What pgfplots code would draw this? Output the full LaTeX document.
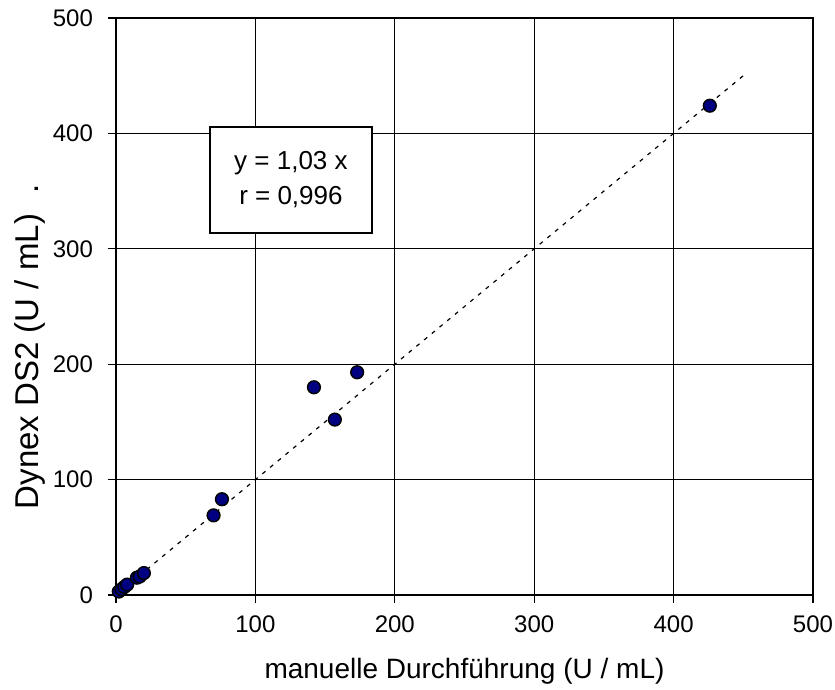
\documentclass[border=0pt]{standalone}
\usepackage{pgfplots}
\pgfplotsset{compat=1.18}
\usepackage{fontspec}
\setmainfont{Liberation Sans}
\definecolor{dots}{RGB}{0,0,128}

\begin{document}
\begin{tikzpicture}
\begin{axis}[
  scale only axis,
  width=348.5pt, height=288.5pt,
  xmin=0, xmax=500, ymin=0, ymax=500,
  xtick={0,100,...,500}, ytick={0,100,...,500},
  tick align=outside, major tick length=4pt,
  tick style={black, line width=0.6pt},
  xtick pos=bottom, ytick pos=left,
  grid=major,
  grid style={black, line width=0.5pt},
  axis line style={black, line width=1pt},
  /pgf/number format/assume math mode=true,
  ticklabel style={font=\fontsize{12}{14}\selectfont},
  xticklabel style={yshift=-3pt},
  yticklabel style={xshift=-4pt},
  xlabel={manuelle Durchführung (U / mL)},
  ylabel={Dynex DS2 (U / mL)\hspace{10pt}.},
  xlabel style={font=\fontsize{14}{16}\selectfont,
    at={(axis description cs:0.5,-0.133)}, anchor=center},
  ylabel style={font=\fontsize{16.5}{19}\selectfont,
    at={(axis description cs:-0.124,0.43)}, anchor=center},
  clip=false,
]
\addplot[black, line width=0.6pt, dash pattern=on 2pt off 3pt]
  coordinates {(0,0) (450,450)};

\addplot[only marks, mark=*, mark size=3.2pt,
  mark options={fill=dots, draw=black, line width=0.7pt}]
  coordinates {
    (2,3) (4,5) (6,7) (8,9) (15,15) (17,16) (20,19)
    (70,69) (76,83)
    (142,180) (157,152) (173,193)
    (426,424)
  };

\node[draw=black, fill=white, line width=0.9pt,
  minimum width=81pt, minimum height=53pt,
  align=center, font=\fontsize{13}{17.5}\selectfont]
  at (axis cs:125.5,359.6) {y = 1,03 x\\r = 0,996};
\end{axis}
\pgfresetboundingbox
\path[use as bounding box]
  ([shift={(-58pt,-47.5pt)}]current axis.south west)
  rectangle ([shift={(11pt,9pt)}]current axis.north east);
\end{tikzpicture}
\end{document}
